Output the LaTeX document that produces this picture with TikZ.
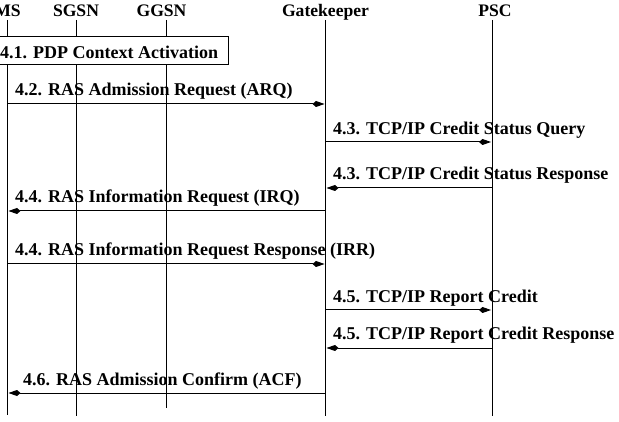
\documentclass[tikz,border=0pt]{standalone}
\usepackage{fontspec}
\setmainfont{Liberation Serif}
\usetikzlibrary{arrows.meta}
\begin{document}
\begin{tikzpicture}[x=1pt,y=-1pt,
  lbl/.style={font=\bfseries\fontsize{18}{20}\selectfont, inner sep=0pt, anchor=base west},
  hdr/.style={font=\bfseries\fontsize{17.6}{20}\selectfont, inner sep=0pt, anchor=base},
  life/.style={line width=1pt},
  msg/.style={line width=1pt, -{Kite[length=12pt,width=6pt,inset=3.5pt]}, shorten >=1pt}]
\useasboundingbox (0,0) rectangle (619,422);
% headers
\node[hdr] (hMS) at (7.5,17) {MS};
\node[hdr] (hSG) at (76,17) {SGSN};
\node[hdr] (hGG) at (161.5,17) {GGSN};
\node[hdr] (hGK) at (325.5,17) {Gatekeeper};
\node[hdr] (hPS) at (495,17) {PSC};
% lifeline ends
\coordinate (tMS) at (7.5,20);  \coordinate (bMS) at (7.5,415);
\coordinate (tSG) at (76,20);   \coordinate (bSG) at (76,416);
\coordinate (tGG) at (166,20);  \coordinate (bGG) at (166,408);
\coordinate (tGK) at (325.5,20);\coordinate (bGK) at (325.5,416);
\coordinate (tPS) at (492,20);  \coordinate (bPS) at (492,416);
% labels
\node[lbl] (l42) at (15,96) {4.2. RAS Admission Request (ARQ)};
\node[lbl] (l43a) at (333,134.5) {4.3. TCP/IP Credit Status Query};
\node[lbl] (l43b) at (333,180) {4.3. TCP/IP Credit Status Response};
\node[lbl] (l44a) at (15,203) {4.4. RAS Information Request (IRQ)};
\node[lbl] (l44b) at (15,256) {4.4. RAS Information Request Response (IRR)};
\node[lbl] (l45a) at (333,302) {4.5. TCP/IP Report Credit};
\node[lbl] (l45b) at (333,340) {4.5. TCP/IP Report Credit Response};
\node[lbl] (l46) at (23,385) {4.6. RAS Admission Confirm (ACF)};
% lifelines
\draw[life] (tMS) -- (bMS);
\draw[life] (tSG) -- (bSG);
\draw[life] (tGG) -- (bGG);
\draw[life] (tGK) -- (bGK);
\draw[life] (tPS) -- (bPS);
% message end points
\coordinate (m42a) at (7.5,104);   \coordinate (m42b) at (325.5,104);
\coordinate (m43a) at (325.5,142); \coordinate (m43b) at (492,142);
\coordinate (m43c) at (492,188);   \coordinate (m43d) at (325.5,188);
\coordinate (m44a) at (325.5,211); \coordinate (m44b) at (7.5,211);
\coordinate (m44c) at (7.5,264);   \coordinate (m44d) at (325.5,264);
\coordinate (m45a) at (325.5,310); \coordinate (m45b) at (492,310);
\coordinate (m45c) at (492,348);   \coordinate (m45d) at (325.5,348);
\coordinate (m46a) at (325.5,393); \coordinate (m46b) at (7.5,393);
\draw[msg] (m42a) -- (m42b);
\draw[msg] (m43a) -- (m43b);
\draw[msg] (m43c) -- (m43d);
\draw[msg] (m44a) -- (m44b);
\draw[msg] (m44c) -- (m44d);
\draw[msg] (m45a) -- (m45b);
\draw[msg] (m45c) -- (m45d);
\draw[msg] (m46a) -- (m46b);
% PDP context box
\node[draw, line width=1pt, fill=white, minimum width=232pt, minimum height=28pt, inner sep=0pt, anchor=north west] (box) at (-4,36.5) {};
\node[lbl] (boxt) at (0,58.5) {4.1. PDP Context Activation};
\end{tikzpicture}
\end{document}
